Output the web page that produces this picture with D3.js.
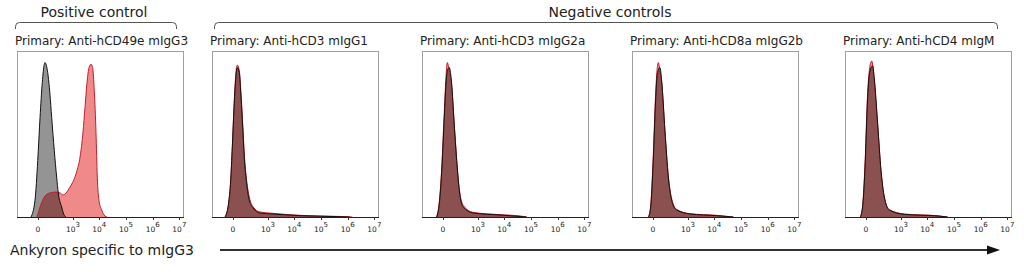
<!DOCTYPE html>
<html><head><meta charset="utf-8">
<script src="https://cdn.jsdelivr.net/npm/d3@7"></script>
<style>html,body{margin:0;padding:0;background:#fff;}svg{display:block;}</style>
</head><body>
<svg id="c" width="1024" height="272"></svg>
<script>
// ---------- data ----------
const panelTitles = ["Primary: Anti-hCD49e mIgG3","Primary: Anti-hCD3 mIgG1","Primary: Anti-hCD3 mIgG2a","Primary: Anti-hCD8a mIgG2b","Primary: Anti-hCD4 mIgM"];
const groupLabels = ["Positive control","Negative controls"];
const axisLabel = "Ankyron specific to mIgG3";
const tickValues = [0, 1e3, 1e4, 1e5, 1e6, 1e7];
const tickBase = ["0","10","10","10","10","10"];
const tickSup = ["","3","4","5","6","7"];

// [fluorescence, % of max]
const p1Isotype = [[-42,0],[-15,10],[-1,34],[10,60],[23,81],[37,92],[42,93],[67,87],[92,74],[115,60],[157,40],[204,24],[242,14.5],[342,6],[401,2.4],[520,0]];
const p1Ankyron = [[-4,0],[10,6],[37,12],[67,14],[92,14.5],[170,15],[289,14.5],[389,13.3],[755,18],[1423,28],[1862,36],[2417,51],[2887,66],[3443,81],[4101,90],[4890,92],[5610,90],[6490,76],[7530,51],[8420,24],[9770,10],[12340,4.2],[16400,0.6],[19500,0]];
const p2Isotype = [[-51,0],[-24,8],[-11,22],[-3,42],[5,66],[13,82],[23,90],[37,87],[51,72],[67,54],[84,36],[115,20],[157,10],[242,5.4],[472,2.4],[1556,1.8],[16400,0.8],[283000,0.3],[1200000,0]];
const p2Ankyron = [[-45,0],[-22,9],[-10,24],[-2,45],[6,70],[14,86],[23,91.5],[37,88],[51,74],[67,56],[84,38],[115,22],[157,12],[242,6],[472,3],[1556,2.2],[16400,1],[100000,0.6],[600000,0.3],[1500000,0]];
const p3Isotype = [[-37,0],[-19,8],[-6,27],[5,57],[15,80],[23,88],[37,90],[57,80],[81,58],[115,34],[157,16],[242,6],[640,2.4],[6900,1.2],[69000,0]];
const p3Ankyron = [[-37,0],[-19,9],[-6,29],[5,60],[15,84],[23,93],[37,88],[57,79],[81,58],[115,35],[157,17],[242,7],[640,2.8],[6900,1.4],[40000,0.6],[69000,0]];
const p4Isotype = [[-24,0],[-11,6],[1,33],[13,70],[23,86],[42,90],[57,82],[92,52],[140,24],[205,10],[340,4.2],[1200,1.8],[12300,0.8],[52000,0]];
const p4Ankyron = [[-24,0],[-11,7],[1,36],[13,74],[23,90],[30,93],[42,88],[57,81],[92,52],[140,25],[205,11],[340,4.6],[1200,2],[12300,1],[52000,0]];
const p5Isotype = [[-32,0],[-17,6],[-5,28],[8,72],[21,88],[40,91],[53,84],[89,56],[135,28],[197,12],[330,4.2],[1350,1.6],[25400,0.6],[58000,0]];
const p5Ankyron = [[-32,0],[-17,7],[-5,30],[8,75],[21,91],[33,94],[53,82],[89,55],[135,28],[197,12],[330,4.4],[1350,1.8],[25400,0.7],[58000,0]];

const isotypeSeries = [p1Isotype,p2Isotype,p3Isotype,p4Isotype,p5Isotype];
const ankyronSeries = [p1Ankyron,p2Ankyron,p3Ankyron,p4Ankyron,p5Ankyron];

// ---------- layout ----------
const svg = d3.select("#c");
const font = "'DejaVu Sans', Verdana, sans-serif";
const panelLeft = [17, 212, 422, 632, 845];
const pw = 166, plotTop = 51, plotBottom = 217;

const x = d3.scaleSymlog().constant(51).domain([-260, 1.37e7]).range([0, pw]);
const y = d3.scaleLinear().domain([0, 100]).range([plotBottom, plotTop]);

const area = d3.area().x(d => x(d[0])).y0(y(0)).y1(d => y(d[1])).curve(d3.curveMonotoneX);
const line = d3.line().x(d => x(d[0])).y(d => y(d[1])).curve(d3.curveMonotoneX);

panelTitles.forEach((t, i) => {
  const g = svg.append("g").attr("transform", `translate(${panelLeft[i]},0)`);
  g.append("rect").attr("x", 0.5).attr("y", plotTop + 0.5).attr("width", pw).attr("height", plotBottom - plotTop)
    .attr("fill", "none").attr("stroke", "#a0a0a0").attr("stroke-width", 1);
  g.append("path").datum(ankyronSeries[i]).attr("d", area).attr("fill", "#f08a8a");
  g.append("path").datum(isotypeSeries[i]).attr("d", area).attr("fill", "rgba(0,0,0,0.42)");
  g.append("path").datum(ankyronSeries[i]).attr("d", line).attr("fill", "none").attr("stroke", "#c41e26").attr("stroke-width", 1);
  g.append("path").datum(isotypeSeries[i]).attr("d", line).attr("fill", "none").attr("stroke", "#111").attr("stroke-width", 1);
  g.append("line").attr("x1", 0).attr("x2", pw + 1).attr("y1", plotBottom + 0.5).attr("y2", plotBottom + 0.5)
    .attr("stroke", "#222").attr("stroke-width", 1);
  tickValues.forEach((v, k) => {
    const tx = Math.round(x(v)) + 0.5;
    g.append("line").attr("x1", tx).attr("x2", tx).attr("y1", plotBottom).attr("y2", plotBottom + 3)
      .attr("stroke", "#333").attr("stroke-width", 1);
    const txt = g.append("text").attr("x", x(v)).attr("y", plotBottom + 15)
      .attr("text-anchor", "middle").attr("font-family", font).attr("font-size", 7.5).attr("fill", "#222")
      .text(tickBase[k]);
    if (tickSup[k]) txt.append("tspan").attr("dy", -5).attr("font-size", 7).text(tickSup[k]);
  });
  g.append("text").attr("x", -2).attr("y", 45).attr("font-family", font).attr("font-size", 12)
    .attr("fill", "#222").text(t);
});

function bracket(x1, x2, yTop, yBot, r) {
  return `M${x1},${yBot} L${x1},${yTop + r} Q${x1},${yTop} ${x1 + r},${yTop} L${x2 - r},${yTop} Q${x2},${yTop} ${x2},${yTop + r} L${x2},${yBot}`;
}
svg.append("path").attr("d", bracket(15.5, 176.5, 22.5, 29, 4)).attr("fill", "none").attr("stroke", "#555").attr("stroke-width", 1);
svg.append("path").attr("d", bracket(214.5, 997.5, 22.5, 29, 4)).attr("fill", "none").attr("stroke", "#555").attr("stroke-width", 1);
svg.append("text").attr("x", 94).attr("y", 17).attr("text-anchor", "middle").attr("font-family", font)
  .attr("font-size", 14).attr("fill", "#222").text(groupLabels[0]);
svg.append("text").attr("x", 610).attr("y", 17).attr("text-anchor", "middle").attr("font-family", font)
  .attr("font-size", 14).attr("fill", "#222").text(groupLabels[1]);

svg.append("text").attr("x", 10).attr("y", 255).attr("font-family", font).attr("font-size", 14)
  .attr("fill", "#222").text(axisLabel);
svg.append("line").attr("x1", 220).attr("x2", 988).attr("y1", 250).attr("y2", 250)
  .attr("stroke", "#333").attr("stroke-width", 2);
svg.append("path").attr("d", "M987,245.5 L1000,250 L987,254.5 Z").attr("fill", "#111");
</script>
</body></html>
